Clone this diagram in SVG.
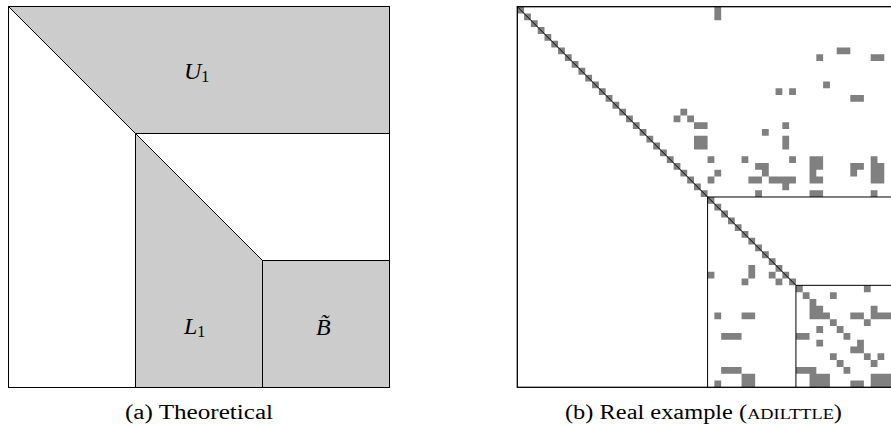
<svg xmlns="http://www.w3.org/2000/svg" width="891" height="428" viewBox="0 0 891 428">
<style>
.bg{fill:#ffffff}
.shade{fill:#cccccc;stroke:#000;stroke-width:1}
.ln{fill:none;stroke:#000;stroke-width:1}
.frame{fill:none;stroke:#000;stroke-width:1.3}
.lbl{font-family:"Liberation Serif",serif;font-size:24px;font-style:italic;fill:#000}
.sub{font-style:normal;font-size:16px}
.cap{font-family:"Liberation Serif",serif;font-size:20px;fill:#000}
.sc{font-size:15px}
.cell{fill:#808080}
.mln{fill:none;stroke:#000;stroke-width:1;vector-effect:non-scaling-stroke}
</style>
<rect class="bg" x="0" y="0" width="891" height="428"/>

<g id="panel-a">
  <rect class="ln" x="8.5" y="6.5" width="381" height="381"/>
  <g id="U1">
    <polygon class="shade" points="8.5,6.5 389.5,6.5 389.5,133.5 135.5,133.5"/>
    <text class="lbl" x="184" y="78.5">U<tspan class="sub" dy="3">1</tspan></text>
  </g>
  <g id="L1">
    <polygon class="shade" points="135.5,133.5 262.5,260.5 262.5,387.5 135.5,387.5"/>
    <text class="lbl" x="184" y="333.5">L<tspan class="sub" dy="3">1</tspan></text>
  </g>
  <g id="Btilde">
    <rect class="shade" x="262.5" y="260.5" width="127" height="127"/>
    <text class="lbl" x="316" y="335">B̃</text>
  </g>
  <rect class="ln" x="8.5" y="6.5" width="381" height="381"/>
  <text class="cap" x="125" y="419" textLength="148" lengthAdjust="spacingAndGlyphs">(a) Theoretical</text>
</g>

<g id="panel-b">
  <g transform="translate(517.3,6.7) scale(6.796)">
    <path class="cell" d="M0 0h1v1h-1z M1 1h1v1h-1z M2 2h1v1h-1z M3 3h1v1h-1z M4 4h1v1h-1z M5 5h1v1h-1z M6 6h1v1h-1z M7 7h1v1h-1z M8 8h1v1h-1z M9 9h1v1h-1z M10 10h1v1h-1z M11 11h1v1h-1z M12 12h1v1h-1z M13 13h1v1h-1z M14 14h1v1h-1z M15 15h1v1h-1z M16 16h1v1h-1z M17 17h1v1h-1z M18 18h1v1h-1z M19 19h1v1h-1z M20 20h1v1h-1z M21 21h1v1h-1z M22 22h1v1h-1z M23 23h1v1h-1z M24 24h1v1h-1z M25 25h1v1h-1z M26 26h1v1h-1z M27 27h1v1h-1z M28 28h1v1h-1z M29 29h1v1h-1z M30 30h1v1h-1z M31 31h1v1h-1z M32 32h1v1h-1z M33 33h1v1h-1z M34 34h1v1h-1z M35 35h1v1h-1z M36 36h1v1h-1z M37 37h1v1h-1z M38 38h1v1h-1z M39 39h1v1h-1z M40 40h1v1h-1z"/>
    <path class="cell" d="M29 0h1v2h-1z M47 6h2v1h-2z M44 7h1v1h-1z M52 7h2v1h-2z M45 11h1v1h-1z M38 12h1v1h-1z M40 12h1v1h-1z M49 13h2v1h-2z M24 15h1v1h-1z M23 16h1v1h-1z M25 16h1v1h-1z M26 17h2v1h-2z M39 17h1v1h-1z M36 18h1v1h-1z M26 19h2v2h-2z M39 19h1v2h-1z M28 22h1v1h-1z M33 22h1v1h-1z M40 22h1v1h-1z M43 22h1v4h-1z M44 22h1v2h-1z M44 25h1v1h-1z M52 22h1v4h-1z M53 23h1v3h-1z M35 23h2v1h-2z M49 23h2v1h-2z M29 24h1v1h-1z M36 24h1v1h-1z M49 24h1v1h-1z M28 25h1v1h-1z M34 25h2v1h-2z M37 25h4v1h-4z M39 26h1v1h-1z M35 27h1v1h-1z M43 27h2v1h-2z M52 27h1v1h-1z"/>
    <path class="cell" d="M34 38h1v2h-1z M28 39h1v1h-1z M37 39h1v1h-1z M33 40h1v1h-1z M38 40h1v1h-1z M29 45h1v1h-1z M33 45h2v1h-2z M30 48h3v1h-3z M30 53h3v1h-3z M33 54h2v2h-2z M29 55h1v1h-1z"/>
    <path class="cell" d="M41 41h1v1h-1z M51 41h1v1h-1z M42 42h1v1h-1z M46 42h1v1h-1z M43 43h1v1h-1z M43 44h2v1h-2z M52 44h1v1h-1z M43 45h3v1h-3z M49 45h2v1h-2z M52 45h3v1h-3z M46 46h1v1h-1z M51 46h1v1h-1z M44 47h1v1h-1z M47 47h1v1h-1z M41 48h2v1h-2z M48 48h1v1h-1z M44 49h1v1h-1z M50 49h1v1h-1z M49 50h2v1h-2z M46 51h1v1h-1z M51 51h1v1h-1z M53 51h1v1h-1z M47 52h1v1h-1z M52 52h1v1h-1z M41 53h3v1h-3z M48 53h1v1h-1z M43 54h3v2h-3z M52 54h3v2h-3z M49 55h2v1h-2z"/>
    <g id="connectors">
      <path class="mln" d="M0 0L41 41"/>
      <path class="mln" d="M28 56V28H56"/>
      <path class="mln" d="M41 56V41H56"/>
    </g>
  </g>
  <rect class="frame" x="517.3" y="6.7" width="380.6" height="380.6"/>
  <text class="cap" x="565" y="419" textLength="277" lengthAdjust="spacingAndGlyphs">(b) Real example (<tspan class="sc">ADILTTLE</tspan>)</text>
</g>
</svg>
